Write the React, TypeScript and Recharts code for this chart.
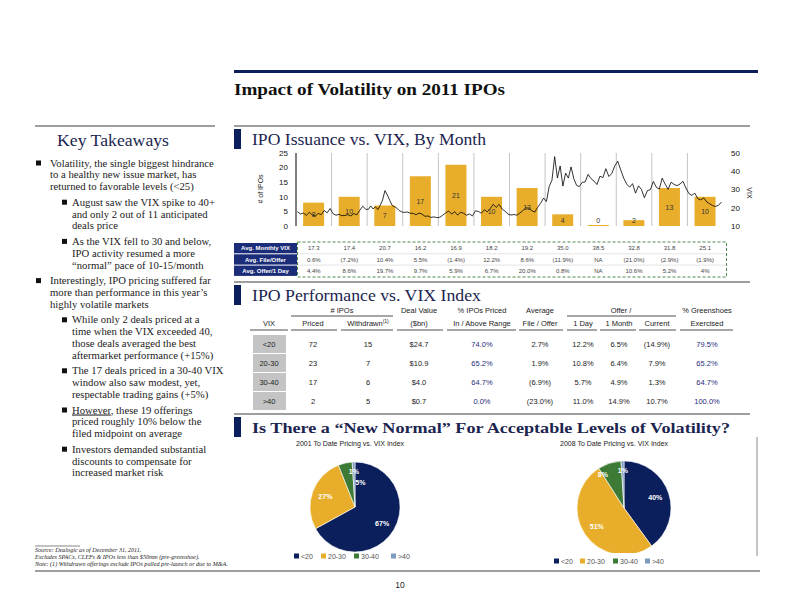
import React from "react";
import {
  Bar,
  Cell,
  ComposedChart,
  LabelList,
  Line,
  Pie,
  PieChart,
  ReferenceLine,
  XAxis,
  YAxis,
} from "recharts";

// ---- monthly issuance + VIX ----
const months = ["Jan", "Feb", "Mar", "Apr", "May", "Jun", "Jul", "Aug", "Sep", "Oct", "Nov", "Dec"];
const ipoCounts = [8, 10, 7, 17, 21, 10, 13, 4, 0, 2, 13, 10];

const vixJan = [17.8, 16.6, 17.1, 15.8, 17.6, 16.0, 15.4, 16.9, 16.2, 18.5, 17.2, 19.6];
const vixFeb = [16.7, 15.9, 16.4, 15.6, 15.8, 16.2, 15.5, 16.8, 16.1, 18.6, 20.8, 19.2];
const vixMar = [19.1, 21.0, 19.4, 20.5, 19.0, 21.3, 24.3, 29.4, 27.0, 24.1, 21.3, 20.6, 19.8, 18.5, 17.8];
const vixApr = [17.4, 17.7, 17.0, 16.9, 16.2, 17.1, 16.5, 15.3, 15.5, 14.7, 15.0, 14.6];
const vixMay = [14.8, 15.9, 17.2, 18.2, 16.5, 17.8, 16.0, 17.5, 17.0, 15.9, 16.6, 15.5];
const vixJun = [18.3, 18.0, 17.0, 18.9, 17.8, 19.5, 21.9, 20.2, 21.8, 19.3, 18.1, 16.5];
const vixJul = [16.0, 16.3, 15.9, 17.1, 18.4, 20.0, 19.7, 18.4, 17.6, 20.2, 22.5, 25.3];
const vixAug = [23.4, 31.7, 35.0, 48.0, 36.3, 42.9, 31.9, 39.0, 36.3, 42.4, 35.9, 32.3, 31.6];
const vixSep = [33.9, 34.1, 38.3, 36.0, 34.6, 32.7, 37.3, 36.5, 41.4, 37.1, 38.8, 42.9];
const vixOct = [45.5, 40.8, 36.3, 33.0, 31.3, 33.2, 28.0, 32.0, 30.0, 25.5, 29.4, 29.9];
const vixNov = [34.4, 31.3, 30.2, 36.2, 32.9, 30.1, 34.0, 32.8, 32.1, 33.0, 34.5, 30.8];
const vixDec = [27.8, 26.8, 28.0, 25.0, 24.3, 25.4, 23.2, 22.2, 21.2, 20.7, 21.4, 23.1];

const statLabels = ["Avg. Monthly VIX", "Avg. File/Offer", "Avg. Offer/1 Day"];
const avgMonthlyVix = ["17.3", "17.4", "20.7", "16.2", "16.9", "18.2", "19.2", "35.0", "38.5", "32.8", "31.8", "25.1"];
const avgFileOffer = ["0.6%", "(7.2%)", "10.4%", "5.5%", "(1.4%)", "12.2%", "8.6%", "(11.9%)", "NA", "(21.0%)", "(2.9%)", "(1.9%)"];
const avgOffer1Day = ["4.4%", "8.6%", "19.7%", "9.7%", "5.9%", "6.7%", "20.0%", "0.8%", "NA", "10.6%", "5.2%", "4%"];

// ---- performance vs VIX table ----
const vixBuckets = ["<20", "20-30", "30-40", ">40"];
const pricedCount = ["72", "23", "17", "2"];
const withdrawnCount = ["15", "7", "6", "5"];
const dealValue = ["$24.7", "$10.9", "$4.0", "$0.7"];
const pctInAbove = ["74.0%", "65.2%", "64.7%", "0.0%"];
const fileOffer = ["2.7%", "1.9%", "(6.9%)", "(23.0%)"];
const offer1Day = ["12.2%", "10.8%", "5.7%", "11.0%"];
const offer1Month = ["6.5%", "6.4%", "4.9%", "14.9%"];
const offerCurrent = ["(14.9%)", "7.9%", "1.3%", "10.7%"];
const greenshoes = ["79.5%", "65.2%", "64.7%", "100.0%"];

// ---- pies ----
const share2001 = [67, 27, 5, 1];
const share2008 = [40, 51, 8, 1];

const NAVY = "#0B1F5C";
const GOLD = "#E8AE2B";
const GREEN = "#3D7A35";
const LBLUE = "#7D9BBD";
const sliceColors = [NAVY, GOLD, GREEN, LBLUE];
const SANS = "'Liberation Sans', Arial, sans-serif";
const SERIF = "'Liberation Serif', 'Times New Roman', serif";

const barData = months.map((m, i) => ({ month: m, ipos: ipoCounts[i] }));
const vixMonths = [vixJan, vixFeb, vixMar, vixApr, vixMay, vixJun, vixJul, vixAug, vixSep, vixOct, vixNov, vixDec];
const vixData = vixMonths.flatMap((vals, m) =>
  vals.map((v, k) => ({ t: m + (k + 0.5) / vals.length, vix: v }))
);
const monthEdges = months.slice(1).map((_, i) => i + 1);

// plot geometry of the issuance chart (used to align the stat rows under it)
const PLOT_L = 296;
const PLOT_R = 723;
const monthX = (i: number) => PLOT_L + ((i + 0.5) * (PLOT_R - PLOT_L)) / months.length;

const BarValue = (props: any) => {
  const { x, y, width, height, value } = props;
  const cy = Math.min(y + height / 2, y + height - 6);
  return (
    <text x={x + width / 2} y={cy} textAnchor="middle" dominantBaseline="central" fontSize={7} fill="#333" fontFamily={SANS}>
      {value}
    </text>
  );
};

const takeaways: { level: number; lines: (string | { u: string; rest: string })[] }[] = [
  { level: 0, lines: ["Volatility, the single biggest hindrance", "to a healthy new issue market, has", "returned to favorable levels (<25)"] },
  { level: 1, lines: ["August saw the VIX spike to 40+", "and only 2 out of 11 anticipated", "deals price"] },
  { level: 1, lines: ["As the VIX fell to 30 and below,", "IPO activity resumed a more", "\u201cnormal\u201d pace of 10-15/month"] },
  { level: 0, lines: ["Interestingly, IPO pricing suffered far", "more than performance in this year\u2019s", "highly volatile markets"] },
  { level: 1, lines: ["While only 2 deals priced at a", "time when the VIX exceeded 40,", "those deals averaged the best", "aftermarket performance (+15%)"] },
  { level: 1, lines: ["The 17 deals priced in a 30-40 VIX", "window also saw modest, yet,", "respectable trading gains (+5%)"] },
  { level: 1, lines: [{ u: "However", rest: ", these 19 offerings" }, "priced roughly 10% below the", "filed midpoint on average"] },
  { level: 1, lines: ["Investors demanded substantial", "discounts to compensate for", "increased market risk"] },
];

function Takeaways() {
  const out: React.ReactNode[] = [];
  let y = 163;
  takeaways.forEach((p, pi) => {
    const bx = p.level === 0 ? 36 : 62;
    const tx = p.level === 0 ? 50 : 72;
    out.push(<rect key={`b${pi}`} x={bx} y={y - 2.5} width={5} height={5} fill="#111" />);
    p.lines.forEach((ln, li) => {
      out.push(
        <text key={`t${pi}-${li}`} x={tx} y={y + 3.5} fontSize={10.7} fontFamily={SERIF} fill="#222">
          {typeof ln === "string" ? (
            ln
          ) : (
            <>
              <tspan textDecoration="underline">{ln.u}</tspan>
              {ln.rest}
            </>
          )}
        </text>
      );
      y += 11.8;
    });
    y += 15.6 - 11.8;
  });
  return <g>{out}</g>;
}

function SectionHeader({ y, title, width, bold }: { y: number; title: string; width: number; bold?: boolean }) {
  return (
    <g>
      <line x1={234} x2={750} y1={y} y2={y} stroke="#9e9e9e" strokeWidth={2} />
      <rect x={234} y={y + 3} width={7} height={20} fill={NAVY} />
      <text
        x={252}
        y={y + 19}
        fontSize={bold ? 15.5 : 17}
        fontWeight={bold ? "bold" : "normal"}
        fontFamily={SERIF}
        fill="#1B2550"
        textLength={width}
        lengthAdjust="spacingAndGlyphs"
      >
        {title}
      </text>
    </g>
  );
}

function StatTable() {
  const rows = [avgMonthlyVix, avgFileOffer, avgOffer1Day];
  const top = 243;
  const h = 11.3;
  return (
    <g>
      {rows.map((vals, r) => (
        <g key={r}>
          <rect x={234} y={top + r * h} width={63} height={h - 1} fill="#1B2C78" />
          <text x={265.5} y={top + r * h + h / 2 + 1.6} textAnchor="middle" fontSize={6} fontWeight="bold" fill="#fff" fontFamily={SANS}>
            {statLabels[r]}
          </text>
          {vals.map((v, i) => (
            <text key={i} x={monthX(i)} y={top + r * h + h / 2 + 1.6} textAnchor="middle" fontSize={6} fill="#444" fontFamily={SANS}>
              {v}
            </text>
          ))}
          {r > 0 && <line x1={298} x2={726} y1={top + r * h - 0.5} y2={top + r * h - 0.5} stroke="#d0d0d0" strokeWidth={0.6} />}
        </g>
      ))}
      <rect x={297.5} y={242} width={429} height={35} fill="none" stroke="#3a7a3a" strokeWidth={0.9} strokeDasharray="3 2" />
    </g>
  );
}

const perfCols = [
  { x: 269, head1: "", head2: "VIX", vals: vixBuckets, blue: false, u: [250, 288] },
  { x: 313, head1: "", head2: "Priced", vals: pricedCount, blue: false, u: [291, 337] },
  { x: 368, head1: "", head2: "Withdrawn", vals: withdrawnCount, blue: false, u: [341, 393] },
  { x: 419, head1: "Deal Value", head2: "($bn)", vals: dealValue, blue: false, u: [397, 443] },
  { x: 482, head1: "% IPOs Priced", head2: "In / Above Range", vals: pctInAbove, blue: true, u: [447, 516] },
  { x: 540, head1: "Average", head2: "File / Offer", vals: fileOffer, blue: false, u: [519, 563] },
  { x: 583, head1: "", head2: "1 Day", vals: offer1Day, blue: false, u: [567, 597] },
  { x: 619, head1: "", head2: "1 Month", vals: offer1Month, blue: false, u: [600, 636] },
  { x: 657, head1: "", head2: "Current", vals: offerCurrent, blue: false, u: [639, 676] },
  { x: 707, head1: "% Greenshoes", head2: "Exercised", vals: greenshoes, blue: true, u: [680, 733] },
];

function PerfTable() {
  const rowY = [344, 363, 382, 401];
  return (
    <g fontFamily={SANS}>
      <text x={342} y={313} textAnchor="middle" fontSize={7.5} fill="#222">
        # IPOs
      </text>
      <line x1={291} x2={393} y1={316} y2={316} stroke="#222" strokeWidth={0.8} />
      <text x={621} y={313} textAnchor="middle" fontSize={7.5} fill="#222">
        Offer /
      </text>
      <line x1={567} x2={676} y1={316} y2={316} stroke="#222" strokeWidth={0.8} />
      {perfCols.map((c, ci) => (
        <g key={ci}>
          {c.head1 && (
            <text x={c.x} y={313} textAnchor="middle" fontSize={7.5} fill="#222">
              {c.head1}
            </text>
          )}
          <text x={c.x} y={326} textAnchor="middle" fontSize={7.5} fill="#222">
            {c.head2}
            {c.head2 === "Withdrawn" && (
              <tspan fontSize={5} dy={-3}>
                (1)
              </tspan>
            )}
          </text>
          <line x1={c.u[0]} x2={c.u[1]} y1={330} y2={330} stroke="#222" strokeWidth={0.8} />
          {c.vals.map((v, r) => (
            <g key={r}>
              {ci === 0 && <rect x={253} y={rowY[r] - 9} width={33} height={18} fill="#c4c4c4" />}
              <text x={c.x} y={rowY[r] + 3} textAnchor="middle" fontSize={7.5} fill={c.blue ? "#1F2D7A" : "#222"}>
                {v}
              </text>
            </g>
          ))}
        </g>
      ))}
    </g>
  );
}

function makePieLabel(smallShift: number, smallRadius: number) {
  const RAD = Math.PI / 180;
  return (props: any) => {
    const { cx, cy, midAngle, outerRadius, index, value } = props;
    let ang = midAngle;
    let r = outerRadius * 0.7;
    if (index === 2) {
      ang = midAngle + smallShift;
      r = outerRadius * smallRadius;
    } else if (index === 3) {
      r = outerRadius * 0.8;
    }
    const x = cx + r * Math.cos(-ang * RAD);
    const y = cy + r * Math.sin(-ang * RAD);
    return (
      <text x={x} y={y} textAnchor="middle" dominantBaseline="central" fontSize={7} fontWeight="bold" fill="#fff" fontFamily={SANS}>
        {value}%
      </text>
    );
  };
}

function VixPie({ shares, radius, smallShift, smallRadius }: { shares: number[]; radius: number; smallShift: number; smallRadius: number }) {
  const data = vixBuckets.map((b, i) => ({ name: b, value: shares[i] }));
  return (
    <PieChart width={110} height={100}>
      <Pie
        data={data}
        dataKey="value"
        cx={55}
        cy={50}
        outerRadius={radius}
        startAngle={90}
        endAngle={-270}
        stroke="#fff"
        strokeWidth={0.6}
        labelLine={false}
        label={makePieLabel(smallShift, smallRadius)}
        isAnimationActive={false}
      >
        {data.map((d, i) => (
          <Cell key={d.name} fill={sliceColors[i]} />
        ))}
      </Pie>
    </PieChart>
  );
}

function PieLegend({ x, y, gaps }: { x: number; y: number; gaps: number[] }) {
  let cx = x;
  return (
    <g fontFamily={SANS}>
      {vixBuckets.map((b, i) => {
        const gx = cx;
        cx += gaps[i];
        return (
          <g key={b}>
            <rect x={gx} y={y - 2.5} width={5} height={5} fill={sliceColors[i]} />
            <text x={gx + 7} y={y + 2.5} fontSize={7} fill="#555">
              {b}
            </text>
          </g>
        );
      })}
    </g>
  );
}

export default function App() {
  return (
    <div style={{ position: "absolute", left: 0, top: 0, width: 792, height: 612, background: "#fff" }}>
      <svg width={792} height={612} style={{ position: "absolute", left: 0, top: 0 }}>
        <rect x={234} y={70} width={524} height={3} fill={NAVY} />
        <text x={234} y={95} fontSize={17} fontWeight="bold" fontFamily={SERIF} fill="#111" textLength={271} lengthAdjust="spacingAndGlyphs">
          Impact of Volatility on 2011 IPOs
        </text>

        <line x1={35} x2={215} y1={126} y2={126} stroke="#9e9e9e" strokeWidth={2} />
        <text x={57} y={146} fontSize={17} fontFamily={SERIF} fill="#1B2550" textLength={112} lengthAdjust="spacingAndGlyphs">
          Key Takeaways
        </text>
        <Takeaways />

        <SectionHeader y={126} title="IPO Issuance vs. VIX, By Month" width={234} />
        <text transform="translate(263,189) rotate(-90)" textAnchor="middle" fontSize={7} fill="#222" fontFamily={SANS}>
          # of IPOs
        </text>
        <text transform="translate(747,193) rotate(90)" textAnchor="middle" fontSize={7} fill="#222" fontFamily={SANS}>
          VIX
        </text>
        <StatTable />

        <SectionHeader y={282} title="IPO Performance vs. VIX Index" width={229} />
        <PerfTable />

        <SectionHeader y={414} title={"Is There a \u201cNew Normal\u201d For Acceptable Levels of Volatility?"} width={478} bold />
        <text x={296} y={446} fontSize={7} fill="#222" fontFamily={SANS}>
          2001 To Date Pricing vs. VIX Index
        </text>
        <text x={560} y={446} fontSize={7} fill="#222" fontFamily={SANS}>
          2008 To Date Pricing vs. VIX Index
        </text>
        <PieLegend x={294} y={556} gaps={[27, 33, 37, 0]} />
        <PieLegend x={554} y={561} gaps={[26, 33, 32, 0]} />
        <line x1={757} x2={757} y1={437} y2={556} stroke="#b0b0b0" strokeWidth={1.5} />

        <line x1={35} x2={80} y1={546} y2={546} stroke="#333" strokeWidth={0.6} />
        <g fontSize={6.1} fontStyle="italic" fontFamily={SERIF} fill="#222">
          <text x={35} y={552}>Source: Dealogic as of December 31, 2011.</text>
          <text x={35} y={559}>Excludes SPACs, CLEFs &amp; IPOs less than $50mm (pre-greenshoe).</text>
          <text x={35} y={566}>Note: (1) Withdrawn offerings exclude IPOs pulled pre-launch or due to M&amp;A.</text>
        </g>
        <line x1={35} x2={760} y1={571} y2={571} stroke="#9e9e9e" strokeWidth={2} />
        <text x={400} y={588} textAnchor="middle" fontSize={8.5} fill="#222" fontFamily={SANS}>
          10
        </text>
      </svg>

      <div style={{ position: "absolute", left: 240, top: 143, width: 520, height: 100 }}>
        <ComposedChart width={520} height={100} data={barData} margin={{ top: 10, right: 7, bottom: 5, left: 30 }} barCategoryGap="20%">
          <XAxis
            xAxisId="m"
            dataKey="month"
            interval={0}
            tickLine={false}
            axisLine={{ stroke: "#000" }}
            height={12}
            tickMargin={2}
            tick={{ fontSize: 8, fill: "#111", fontFamily: SANS }}
          />
          <XAxis xAxisId="d" type="number" dataKey="t" domain={[0, 12]} allowDataOverflow hide />
          <YAxis
            yAxisId="n"
            domain={[0, 25]}
            ticks={[0, 5, 10, 15, 20, 25]}
            width={26}
            tickLine={false}
            axisLine={{ stroke: "#000" }}
            tick={{ fontSize: 8, fill: "#111", fontFamily: SANS }}
          />
          <YAxis
            yAxisId="v"
            orientation="right"
            domain={[10, 50]}
            ticks={[10, 20, 30, 40, 50]}
            width={30}
            tickLine={false}
            axisLine={false}
            tick={{ fontSize: 8, fill: "#111", fontFamily: SANS }}
          />
          {monthEdges.map((e) => (
            <ReferenceLine key={e} xAxisId="d" yAxisId="n" x={e} stroke="#c4c4c4" strokeWidth={1} />
          ))}
          <Bar xAxisId="m" yAxisId="n" dataKey="ipos" fill={GOLD} minPointSize={1} isAnimationActive={false}>
            <LabelList dataKey="ipos" content={BarValue} />
          </Bar>
          <Line
            xAxisId="d"
            yAxisId="v"
            data={vixData}
            dataKey="vix"
            type="linear"
            stroke="#000"
            strokeWidth={0.8}
            dot={false}
            isAnimationActive={false}
          />
        </ComposedChart>
      </div>

      <div style={{ position: "absolute", left: 295, top: 452, width: 110, height: 100 }}>
        <VixPie shares={share2001} radius={45} smallShift={-25} smallRadius={0.55} />
      </div>
      <div style={{ position: "absolute", left: 564, top: 453, width: 110, height: 100 }}>
        <VixPie shares={share2008} radius={47} smallShift={14} smallRadius={0.85} />
      </div>
    </div>
  );
}
